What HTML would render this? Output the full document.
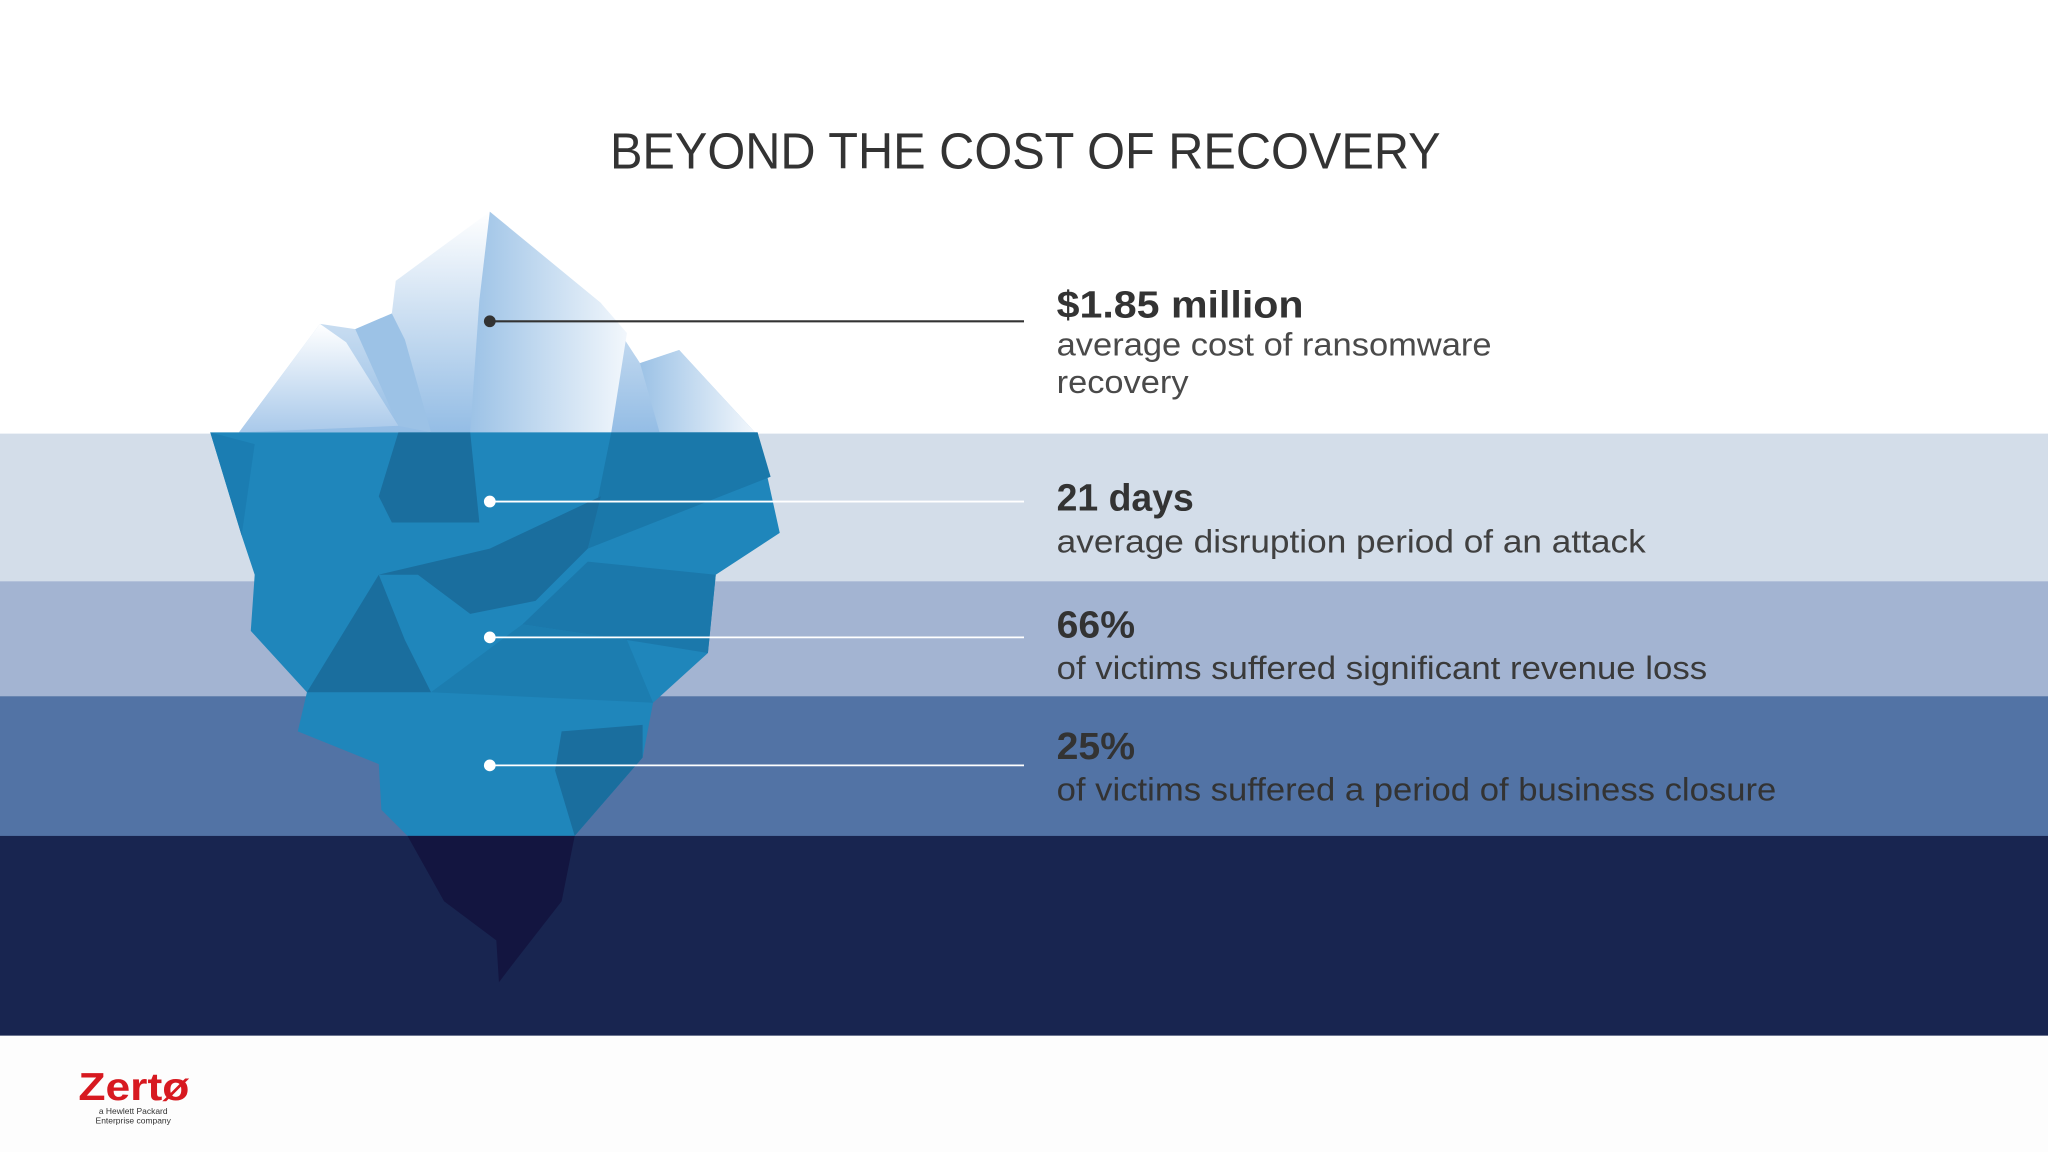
<!DOCTYPE html>
<html><head><meta charset="utf-8">
<style>
html,body{margin:0;padding:0;background:#fff;}
svg{display:block;}
text{font-family:"Liberation Sans",sans-serif;}
</style></head>
<body>
<svg width="2048" height="1152" viewBox="0 0 1568 882" preserveAspectRatio="none" xmlns="http://www.w3.org/2000/svg">
<defs>
<linearGradient id="snow" x1="0" y1="0" x2="0" y2="1">
<stop offset="0" stop-color="#ffffff"/><stop offset="0.5" stop-color="#c9ddf1"/><stop offset="1" stop-color="#94bde5"/>
</linearGradient>
<linearGradient id="snow2" x1="0" y1="0" x2="1" y2="0">
<stop offset="0" stop-color="#9cc2e6"/><stop offset="1" stop-color="#f2f7fc"/>
</linearGradient>
<linearGradient id="snow3" x1="0" y1="0" x2="0" y2="1">
<stop offset="0" stop-color="#ffffff"/><stop offset="1" stop-color="#a9c9ea"/>
</linearGradient>
</defs>
<rect x="0" y="0" width="1568" height="332" fill="#ffffff"/>
<rect x="0" y="332" width="1568" height="113" fill="#d3dde9"/>
<rect x="0" y="445" width="1568" height="88" fill="#a3b4d2"/>
<rect x="0" y="533" width="1568" height="108" fill="#5273a5"/>
<rect x="0" y="640" width="1568" height="153" fill="#182550"/>
<rect x="0" y="793" width="1568" height="89" fill="#fdfdfd"/>

<g>
<polygon points="183,331 245,248 272,252 300,240 303,215 375,162 460,232 490,278 520,268 578,331" fill="url(#snow)"/>
<polygon points="375,162 460,232 480,255 468,331 360,331 367,230" fill="url(#snow2)"/>
<polygon points="183,331 245,248 265,262 305,326" fill="url(#snow3)"/>
<polygon points="490,278 520,268 578,331 505,331" fill="url(#snow2)"/>
<polygon points="272,252 300,240 310,260 330,331 305,326" fill="#9cc2e6"/>
<polygon points="161,331 580,331 597,408 548,440 542,500 500,538 492,580 440,640 312,640 292,620 290,585 228,560 235,530 192,483 195,440 185,410" fill="#1f86bb"/>
<polygon points="305,331 360,331 367,400 300,400 290,380" fill="#1a6e9e"/>
<polygon points="468,331 580,331 590,365 450,420" fill="#1a78aa"/>
<polygon points="290,440 375,420 460,380 450,420 410,460 360,470 320,440" fill="#1a6e9e"/>
<polygon points="400,478 450,430 548,440 542,500 480,490" fill="#1b78ab"/>
<polygon points="235,530 290,440 310,490 330,530" fill="#1a6e9e"/>
<polygon points="330,530 400,478 480,490 500,538" fill="#1c7db0"/>
<polygon points="430,560 492,555 492,580 440,640 425,590" fill="#1a6e9e"/>
<polygon points="161,331 195,340 185,410" fill="#1b7db2"/>
<polygon points="312,640 440,640 430,690 395,735 382,752 380,720 340,690" fill="#131540"/>
</g>

<g>
<line x1="375" y1="246" x2="784" y2="246" stroke="#333" stroke-width="1.6"/>
<circle cx="375" cy="246" r="4.5" fill="#333"/>
<line x1="375" y1="384" x2="784" y2="384" stroke="#fff" stroke-width="1.4"/>
<circle cx="375" cy="384" r="4.5" fill="#fff"/>
<line x1="375" y1="488" x2="784" y2="488" stroke="#fff" stroke-width="1.4"/>
<circle cx="375" cy="488" r="4.5" fill="#fff"/>
<line x1="375" y1="586" x2="784" y2="586" stroke="#fff" stroke-width="1.4"/>
<circle cx="375" cy="586" r="4.5" fill="#fff"/>
</g>

<text x="467" y="129" font-size="39" fill="#333" textLength="636" lengthAdjust="spacingAndGlyphs">BEYOND THE COST OF RECOVERY</text>

<g fill="#333">
<text x="809" y="243" font-size="29" font-weight="bold" textLength="189" lengthAdjust="spacingAndGlyphs">$1.85 million</text>
<text x="809" y="272" font-size="25" fill="#4a4a4a" textLength="333" lengthAdjust="spacingAndGlyphs">average cost of ransomware</text>
<text x="809" y="301" font-size="25" fill="#4a4a4a" textLength="101" lengthAdjust="spacingAndGlyphs">recovery</text>
</g>
<g fill="#333">
<text x="809" y="391" font-size="29" font-weight="bold" textLength="105" lengthAdjust="spacingAndGlyphs">21 days</text>
<text x="809" y="423" font-size="25" fill="#404040" textLength="451" lengthAdjust="spacingAndGlyphs">average disruption period of an attack</text>
</g>
<g fill="#333">
<text x="809" y="488" font-size="29" font-weight="bold" textLength="60" lengthAdjust="spacingAndGlyphs">66%</text>
<text x="809" y="520" font-size="25" fill="#3a3a3a" textLength="498" lengthAdjust="spacingAndGlyphs">of victims suffered significant revenue loss</text>
</g>
<g fill="#333">
<text x="809" y="581" font-size="29" font-weight="bold" textLength="60" lengthAdjust="spacingAndGlyphs">25%</text>
<text x="809" y="613" font-size="25" fill="#333" textLength="551" lengthAdjust="spacingAndGlyphs">of victims suffered a period of business closure</text>
</g>

<g>
<text x="60" y="842" font-size="30" font-weight="bold" fill="#d71920" textLength="85" lengthAdjust="spacingAndGlyphs">Zertø</text>
<text x="102" y="853" font-size="6.5" text-anchor="middle" fill="#333">a Hewlett Packard</text>
<text x="102" y="860" font-size="6.5" text-anchor="middle" fill="#333">Enterprise company</text>
</g>
</svg>
</body></html>
